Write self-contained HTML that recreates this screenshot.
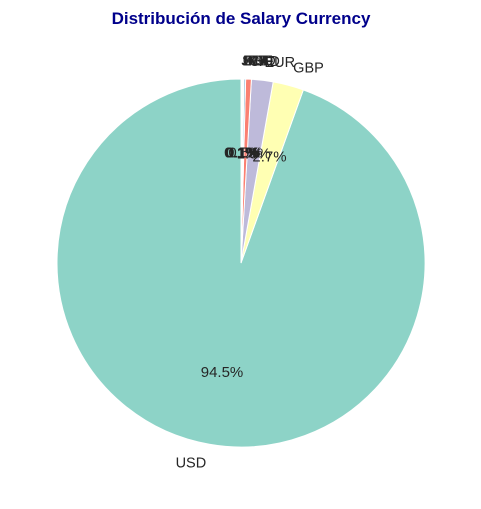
<!DOCTYPE html>
<html><head><meta charset="utf-8"><style>
html,body{margin:0;padding:0;background:#fff;}
svg text{font-family:"Liberation Sans",Arial,sans-serif;}
</style></head><body>
<svg id="chart" width="481" height="504" viewBox="0 0 481 504" xmlns="http://www.w3.org/2000/svg">
<text x="241" y="24" text-anchor="middle" font-size="17" font-weight="bold" fill="#00008b">Distribución de Salary Currency</text>
<g id="slices"></g><g id="labels"></g>
</svg>
<script>
const categories = ["USD","GBP","EUR","CAD","AUD","INR","CHF","SGD","JPY"];
const values = [94.5,2.7,1.9,0.5,0.15,0.08,0.07,0.05,0.05];
const colors = ["#8dd3c7","#ffffb3","#bebada","#fb8072","#80b1d3","#fdb462","#b3de69","#fccde5","#d9d9d9"];
const cx=241, cy=263, r=184;
const NS="http://www.w3.org/2000/svg";
const total=values.reduce((a,b)=>a+b,0);
const gs=document.getElementById('slices'), gl=document.getElementById('labels');
function pt(a,rad){return [cx+rad*Math.cos(a*Math.PI/180), cy-rad*Math.sin(a*Math.PI/180)];}
let start=90;
values.forEach((v,i)=>{
  const sweep=v/total*360, end=start+sweep, mid=start+sweep/2;
  const p1=pt(start,r), p2=pt(end,r);
  const path=document.createElementNS(NS,'path');
  path.setAttribute('d',`M${cx},${cy} L${p1[0]},${p1[1]} A${r},${r} 0 ${sweep>180?1:0} 0 ${p2[0]},${p2[1]} Z`);
  path.setAttribute('fill',colors[i]);path.setAttribute('stroke','#fff');path.setAttribute('stroke-width','1');
  
  
  gs.appendChild(path);
  const lp=pt(mid,r*1.1);
  const t=document.createElementNS(NS,'text');
  t.setAttribute('x',lp[0]);t.setAttribute('y',lp[1]+5);
  t.setAttribute('text-anchor',Math.cos(mid*Math.PI/180)>=0?'start':'end');
  t.setAttribute('font-size','14.5');t.setAttribute('fill','#262626');
  t.textContent=categories[i];
  
  
  gl.appendChild(t);
  const pp=pt(mid,r*0.6);
  const q=document.createElementNS(NS,'text');
  q.setAttribute('x',pp[0]);q.setAttribute('y',pp[1]+5);q.setAttribute('text-anchor','middle');
  q.setAttribute('font-size','15');q.setAttribute('fill','#262626');
  q.textContent=(v/total*100).toFixed(1)+'%';
  
  
  gl.appendChild(q);
  start=end;
});
</script>
</body></html>
